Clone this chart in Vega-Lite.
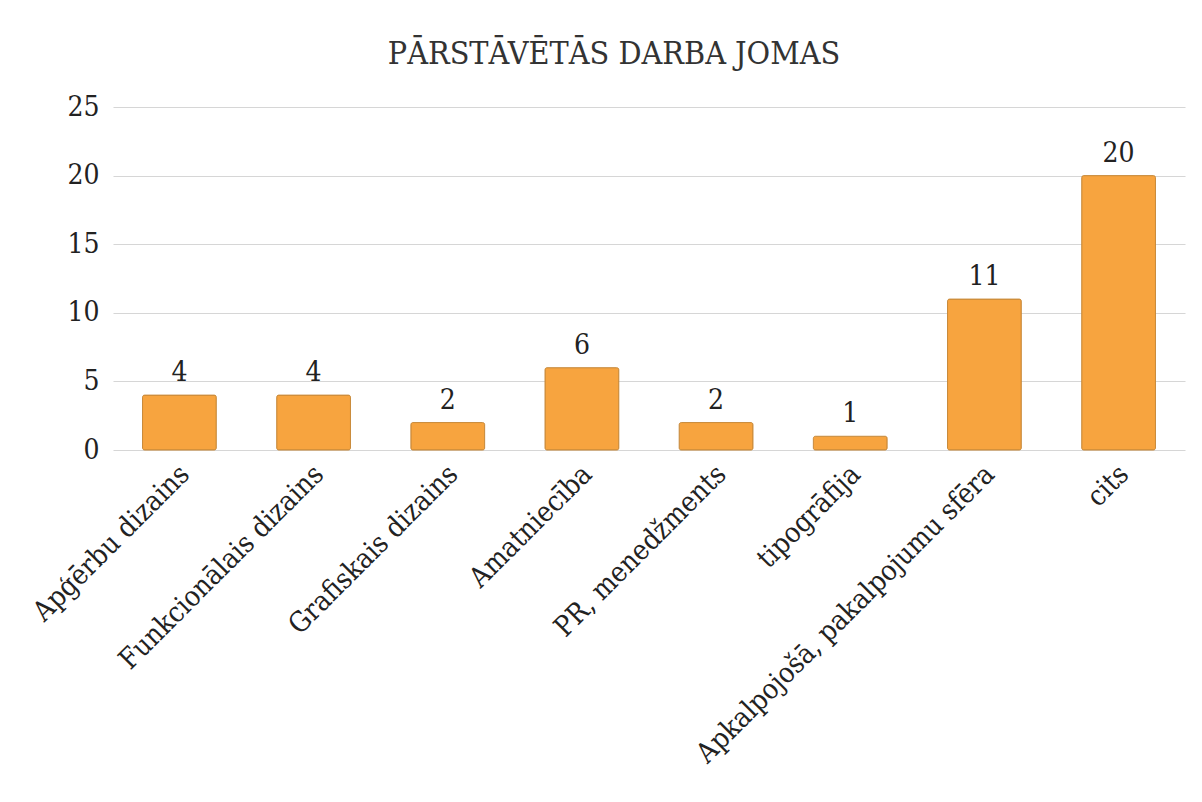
{
  "$schema": "https://vega.github.io/schema/vega-lite/v6.json",
  "autosize": {"type": "none"},
  "width": 1072,
  "height": 343,
  "padding": {"left": 113, "top": 107, "right": 17, "bottom": 352},
  "background": "white",
  "title": {
    "text": "PĀRSTĀVĒTĀS DARBA JOMAS",
    "font": "DejaVu Serif Condensed, DejaVu Serif",
    "fontSize": 32,
    "fontWeight": "normal",
    "color": "#333333",
    "anchor": "middle",
    "dx": -35,
    "offset": 22
  },
  "data": {
    "values": [
      {"joma": "Apģērbu dizains", "skaits": 4},
      {"joma": "Funkcionālais dizains", "skaits": 4},
      {"joma": "Grafiskais dizains", "skaits": 2},
      {"joma": "Amatniecība", "skaits": 6},
      {"joma": "PR, menedžments", "skaits": 2},
      {"joma": "tipogrāfija", "skaits": 1},
      {"joma": "Apkalpojošā, pakalpojumu sfēra", "skaits": 11},
      {"joma": "cits", "skaits": 20}
    ]
  },
  "encoding": {
    "x": {
      "field": "joma",
      "type": "nominal",
      "sort": null,
      "scale": {"paddingInner": 0.45, "paddingOuter": 0.22},
      "axis": {
        "title": null,
        "labelAngle": -45,
        "labelFont": "DejaVu Serif Condensed, DejaVu Serif",
        "labelFontSize": 28,
        "labelColor": "#222222",
        "labelPadding": 10,
        "labelOffset": -4,
        "ticks": false,
        "domain": false,
        "labelLimit": 600
      }
    },
    "y": {
      "field": "skaits",
      "type": "quantitative",
      "scale": {"domain": [0, 25]},
      "axis": {
        "title": null,
        "values": [0, 5, 10, 15, 20, 25],
        "labelFont": "DejaVu Serif Condensed, DejaVu Serif",
        "labelFontSize": 28,
        "labelColor": "#222222",
        "labelPadding": 14,
        "ticks": false,
        "domain": false,
        "gridColor": "#d6d6d6",
        "gridWidth": 1.2
      }
    }
  },
  "layer": [
    {
      "mark": {"type": "bar", "color": "#F7A43F", "stroke": "#c98a3a", "strokeWidth": 1, "cornerRadius": 2}
    },
    {
      "mark": {"type": "text", "dy": -22, "font": "DejaVu Serif Condensed, DejaVu Serif", "fontSize": 28, "color": "#222222"},
      "encoding": {"text": {"field": "skaits", "type": "quantitative"}}
    }
  ],
  "config": {"view": {"stroke": null}}
}
